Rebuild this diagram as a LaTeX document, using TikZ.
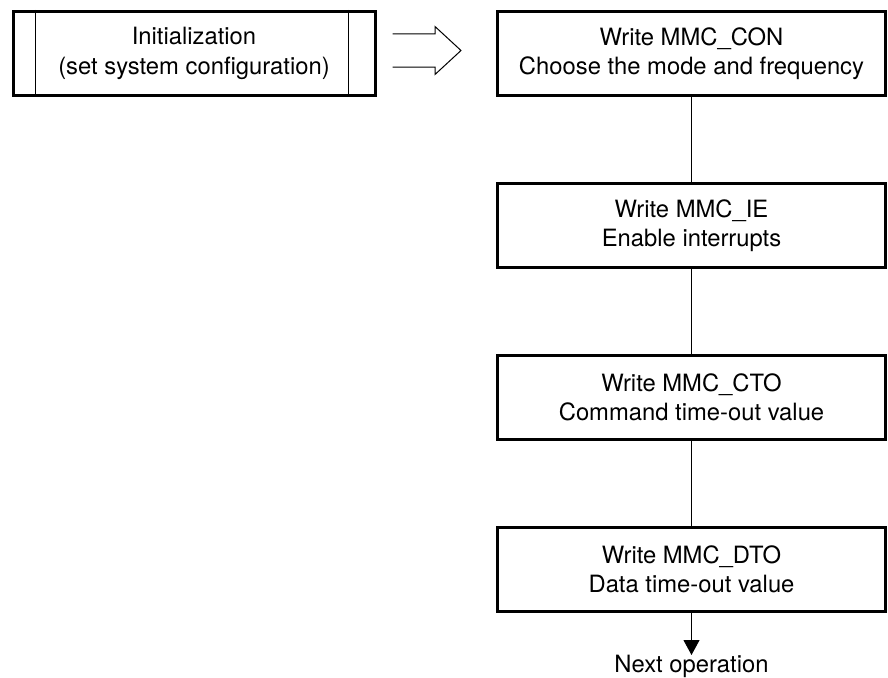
\documentclass[tikz,border=0pt]{standalone}
\usepackage{fontspec}
\setmainfont{TeX Gyre Heros}
\usetikzlibrary{positioning,arrows.meta,calc}

\begin{document}
\begin{tikzpicture}[x=1pt,y=1pt,
  txt/.style={align=center,font=\fontsize{23.8}{29.5}\selectfont},
  stepbox/.style={txt,draw,line width=3pt,minimum width=388pt,minimum height=84pt,inner sep=0pt},
  initbox/.style={stepbox,minimum width=362pt},
  link/.style={line width=1pt}]
\useasboundingbox (0,0) rectangle (888,-677);
\node[initbox] (init) at (194,-53.5) {Initialization\\(set system configuration)};
\node[stepbox] (con) at (691.5,-53.5) {Write MMC\_CON\\Choose the mode and frequency};
\node[stepbox,below=85pt of con] (ie) {Write MMC\_IE\\Enable interrupts};
\node[stepbox,below=85pt of ie] (cto) {Write MMC\_CTO\\Command time-out value};
\node[stepbox,below=85pt of cto] (dto) {Write MMC\_DTO\\Data time-out value};
\node[txt,inner sep=0pt,below=42pt of dto] (next) {Next operation};
% inner bars of the init box
\draw[link] ([xshift=24pt]init.north west) -- ([xshift=24pt]init.south west);
\draw[link] ([xshift=-28pt]init.north east) -- ([xshift=-28pt]init.south east);
% hollow arrow between init and con
\coordinate (s) at ($(init.east)+(16,3)$);
\coordinate (t) at ($(con.west)+(-35,3)$);
\draw[link,line join=miter]
  ($(s)+(0,16.5)$) -- ($(t)+(-26,16.5)$) -- ($(t)+(-26,24)$) -- (t)
  -- ($(t)+(-26,-24)$) -- ($(t)+(-26,-16.5)$) -- ($(s)+(0,-16.5)$);
% flow
\draw[link] (con) -- (ie);
\draw[link] (ie) -- (cto);
\draw[link] (cto) -- (dto);
\draw[link,-{Triangle[length=15pt,width=16pt]}] (dto) -- (next);
\end{tikzpicture}
\end{document}
